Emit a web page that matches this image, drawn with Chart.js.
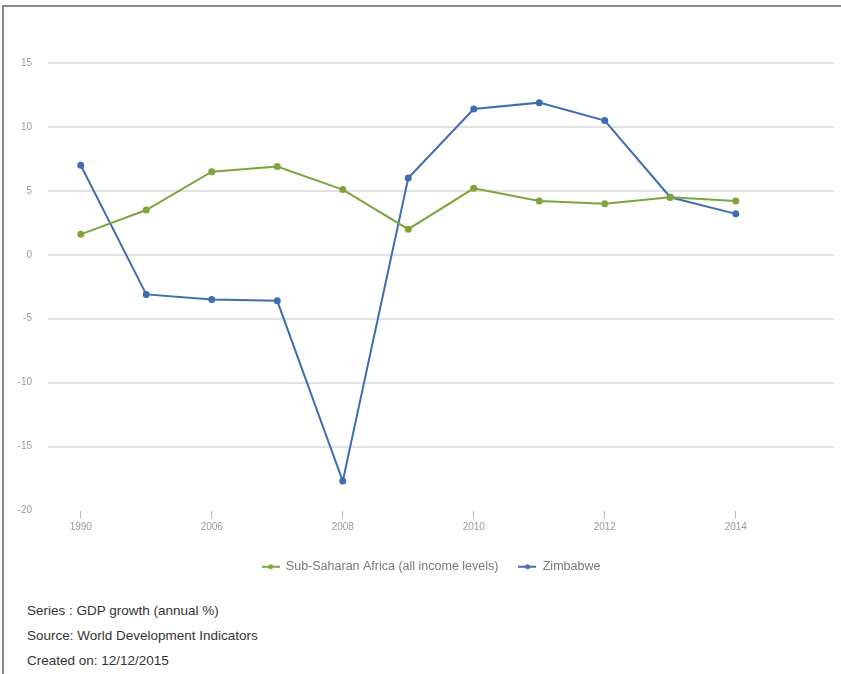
<!DOCTYPE html>
<html>
<head>
<meta charset="utf-8">
<script src="https://cdn.jsdelivr.net/npm/chart.js@4/dist/chart.umd.min.js"></script>
<style>
  body { margin: 0; background: #fff; font-family: "Liberation Sans", Arial, sans-serif; }
  #frame { position: absolute; left: 2px; top: 5px; width: 900px; height: 700px;
           border-top: 2px solid #8a8a8a; border-left: 2px solid #8a8a8a; }
  #chart { position: absolute; left: 0; top: 0; }
  .note { position: absolute; left: 27px; font-size: 13.5px; color: #333; }
</style>
</head>
<body>
<div id="frame"></div>
<canvas id="chart" width="841" height="583"></canvas>
<div class="note" style="top:603px">Series : GDP growth (annual %)</div>
<div class="note" style="top:628px">Source: World Development Indicators</div>
<div class="note" style="top:653px">Created on: 12/12/2015</div>
<script>
// GDP growth chart
const years = ["1990", "2005", "2006", "2007", "2008", "2009", "2010", "2011", "2012", "2013", "2014"];
const shownYears = [0, 2, 4, 6, 8, 10];
const ssaGrowth = [1.6, 3.5, 6.5, 6.9, 5.1, 2.0, 5.2, 4.2, 4.0, 4.5, 4.2];
const zimGrowth = [7.0, -3.1, -3.5, -3.6, -17.7, 6.0, 11.4, 11.9, 10.5, 4.5, 3.2];
const yTicks = [15, 10, 5, 0, -5, -10, -15, -20];

const green = '#7ea53c';
const blue = '#3f6db0';

// little line-with-dot marker for the legend
function legendMark(color) {
    const c = document.createElement('canvas');
    c.width = 18; c.height = 8;
    const ctx = c.getContext('2d');
    ctx.strokeStyle = color;
    ctx.lineWidth = 2;
    ctx.beginPath(); ctx.moveTo(0, 4); ctx.lineTo(18, 4); ctx.stroke();
    ctx.fillStyle = color;
    ctx.beginPath(); ctx.arc(9, 4, 2.5, 0, Math.PI * 2); ctx.fill();
    return c;
}

function toPoints(values) {
    return values.map((v, i) => ({ x: i, y: v }));
}

// nudge the legend a bit to the right, like the original
const legendShift = {
    id: 'legendShift',
    afterLayout(chart) {
        chart.legend.left += 14;
        chart.legend.right += 14;
    }
};

const gdpData = {
    datasets: [{
        label: 'Sub-Saharan Africa (all income levels)',
        data: toPoints(ssaGrowth),
        borderColor: green,
        backgroundColor: green,
        borderWidth: 2,
        pointRadius: 2.5,
        legendMark: legendMark(green)
    }, {
        label: 'Zimbabwe',
        data: toPoints(zimGrowth),
        borderColor: blue,
        backgroundColor: blue,
        borderWidth: 2,
        pointRadius: 2.5,
        legendMark: legendMark(blue)
    }]
};

const gdpOptions = {
    responsive: false,
    animation: false,
    layout: { padding: { top: 63, right: 7, left: 0, bottom: 0 } },
    scales: {
        x: {
            type: 'linear',
            min: -0.5,
            max: 11.5,
            afterBuildTicks: scale => { scale.ticks = shownYears.map(v => ({ value: v })); },
            afterFit: scale => { scale.height = 30; },
            border: { display: false },
            grid: { drawOnChartArea: false, drawTicks: true, tickLength: 8, color: '#bbb', lineWidth: 1 },
            ticks: {
                padding: 3,
                color: '#999',
                font: { size: 10, family: 'Liberation Sans' },
                callback: v => years[v]
            }
        },
        y: {
            min: -20,
            max: 15,
            afterBuildTicks: scale => { scale.ticks = yTicks.map(v => ({ value: v })); },
            afterFit: scale => { scale.width = 48; },
            border: { display: false },
            grid: {
                drawTicks: false,
                lineWidth: 2,
                color: ctx => ctx.tick && ctx.tick.value === -20 ? 'rgba(0,0,0,0)' : '#e2e2e2'
            },
            ticks: {
                padding: 16,
                color: '#999',
                font: { size: 10, family: 'Liberation Sans' }
            }
        }
    },
    plugins: {
        tooltip: { enabled: false },
        legend: {
            position: 'bottom',
            labels: {
                usePointStyle: true,
                pointStyleWidth: 18,
                padding: 20,
                color: '#777',
                font: { size: 12.5, family: 'Liberation Sans' },
                generateLabels: chart => {
                    const items = Chart.defaults.plugins.legend.labels.generateLabels(chart);
                    items.forEach(it => { it.pointStyle = chart.data.datasets[it.datasetIndex].legendMark; });
                    return items;
                }
            }
        }
    }
};

const gdpChart = new Chart(document.getElementById('chart'), {
    type: 'line',
    data: gdpData,
    options: gdpOptions,
    plugins: [legendShift]
});
</script>
</body>
</html>
